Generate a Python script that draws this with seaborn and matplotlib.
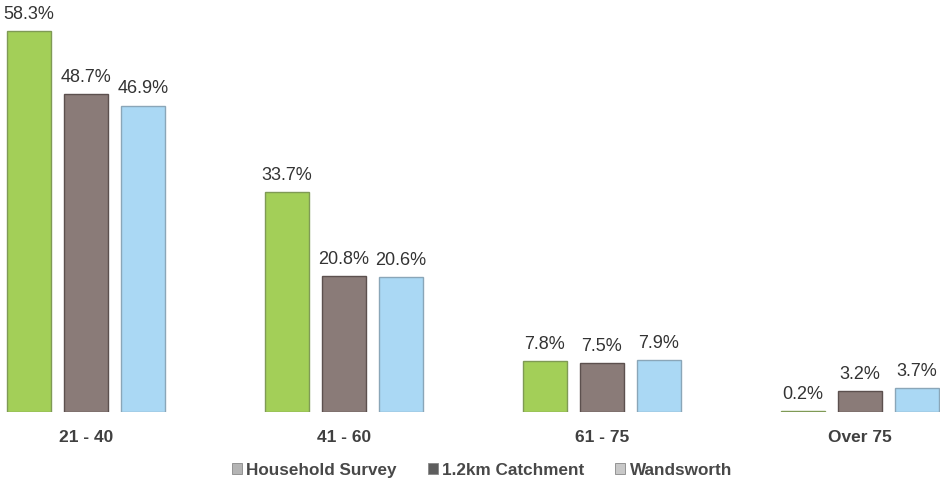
import matplotlib
matplotlib.use("Agg")
import matplotlib.pyplot as plt
import seaborn as sns
import pandas as pd
from matplotlib.patches import Patch

categories = ["21 - 40", "41 - 60", "61 - 75", "Over 75"]
series = ["Household Survey", "1.2km Catchment", "Wandsworth"]
household = [58.3, 33.7, 7.8, 0.2]
catchment = [48.7, 20.8, 7.5, 3.2]
wandsworth = [46.9, 20.6, 7.9, 3.7]

colors = ["#a3cf58", "#8a7b78", "#aad8f4"]
edges = ["#7f9a55", "#5c504e", "#8aa6b8"]
legend_colors = ["#b4b4b4", "#5e5e5e", "#c8c8c8"]

rows = []
for s, vals in zip(series, [household, catchment, wandsworth]):
    for c, v in zip(categories, vals):
        rows.append({"Age": c, "Series": s, "Value": v})
df = pd.DataFrame(rows)

sns.set_theme(style="white")
plt.rcParams["font.family"] = ["Liberation Sans", "DejaVu Sans"]

fig = plt.figure(figsize=(9.4, 4.85), dpi=100)
ax = fig.add_axes([0, 72 / 485, 1, 392.1 / 485])

sns.barplot(data=df, x="Age", y="Value", hue="Series", order=categories,
            hue_order=series, palette=colors, saturation=1, width=0.663, gap=0.23,
            linewidth=1, ax=ax, legend=False, errorbar=None)

for cont, ec in zip(ax.containers, edges):
    for bar in cont:
        bar.set_edgecolor(ec)
        bar.set_linewidth(1)
    ax.bar_label(cont, labels=[f"{b.get_height():.1f}%" for b in cont],
                 padding=6.5, fontsize=13, color="#333333")

ax.set_xlim(-86 / 258, 854 / 258)
ax.set_ylim(0, 60)
ax.set_xlabel("")
ax.set_ylabel("")
ax.set_yticks([])
for sp in ax.spines.values():
    sp.set_visible(False)
ax.tick_params(axis="x", length=0, pad=12)
for lbl in ax.get_xticklabels():
    lbl.set_fontweight("bold")
    lbl.set_fontsize(12.5)
    lbl.set_color("#404040")

handles = [Patch(facecolor=c, edgecolor="#888888", linewidth=0.6) for c in legend_colors]
fig.legend(handles, series, loc="center", bbox_to_anchor=(482 / 940, 1 - 471 / 485),
           ncol=3, frameon=False, handlelength=0.6, handleheight=0.6,
           handletextpad=0.25, columnspacing=1.8,
           prop={"weight": "bold", "size": 12.3, "family": ["Liberation Sans", "DejaVu Sans"]},
           labelcolor="#484848")

fig.savefig("out.png", dpi=100)
